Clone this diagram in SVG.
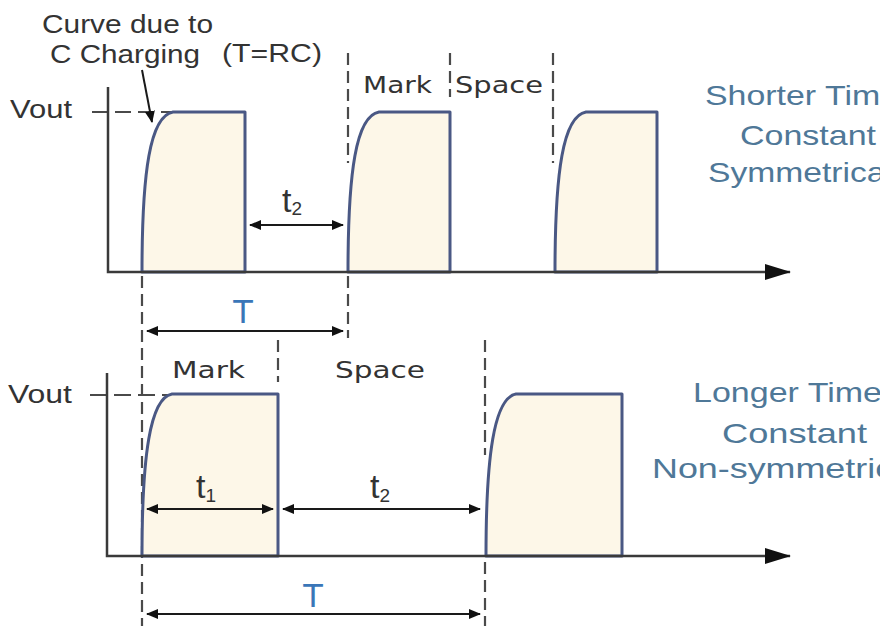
<svg xmlns="http://www.w3.org/2000/svg" width="880" height="626" viewBox="0 0 880 626">
<defs>
<style>
.wave{fill:#fdf7e8;stroke:#4a5884;stroke-width:3;stroke-linejoin:round}
.axis{fill:none;stroke:#3a3a3a;stroke-width:2.5}
.dash{fill:none;stroke:#4a4a4a;stroke-width:2.2;stroke-dasharray:12 6}
.dim{fill:none;stroke:#1a1a1a;stroke-width:2;marker-start:url(#ah);marker-end:url(#ah)}
.lbl{font-family:"Liberation Sans",Arial,sans-serif;font-size:25px;fill:#333}
.mk{font-family:"DejaVu Sans",Verdana,sans-serif;font-size:23px;fill:#333}
.bigT{font-family:"DejaVu Sans",Verdana,sans-serif;font-size:32px;fill:#3a76b8;text-anchor:middle}
.tl{font-family:"Liberation Sans",Arial,sans-serif;font-size:34px;fill:#333}
.sub{font-size:19px}
.side{font-family:"Liberation Sans",Arial,sans-serif;font-size:28px;fill:#4f7898}
</style>
<marker id="ah" viewBox="0 0 12 10" refX="11" refY="5" markerWidth="12" markerHeight="10" markerUnits="userSpaceOnUse" orient="auto-start-reverse">
<path d="M0,0 L12,5 L0,10 z" fill="#111"/>
</marker>
<marker id="ax" viewBox="0 0 26 16" refX="25" refY="8" markerWidth="26" markerHeight="16" markerUnits="userSpaceOnUse" orient="auto">
<path d="M0,0 L26,8 L0,16 z" fill="#111"/>
</marker>
</defs>
<rect width="880" height="626" fill="#ffffff"/>

<g id="top-guides">
<path class="dash" d="M348 53 V163 M450 53 V97 M553 53 V163 M348 276 V338 M142 276 V626"/>
<path class="dash" d="M92 112 H172" style="stroke-dasharray:16 7"/>
</g>

<g id="bottom-guides">
<path class="dash" d="M278 340 V382 M485 340 V455 M485 562 V626"/>
<path class="dash" d="M90 395 H168" style="stroke-dasharray:17 7"/>
</g>

<g id="top-waveform">
<path class="wave" d="M142 272 C142 172 150 116 173 112 H245 V272 Z"/>
<path class="wave" d="M348 272 C348 172 356 116 379 112 H450 V272 Z"/>
<path class="wave" d="M555 272 C555 172 563 116 586 112 H657 V272 Z"/>
</g>

<g id="bottom-waveform">
<path class="wave" d="M142 556 C142 456 150 398 172 394 H278 V556 Z"/>
<path class="wave" d="M486 556 C486 456 494 398 516 394 H622 V556 Z"/>
</g>

<g id="axes">
<path class="axis" d="M108 87 V272 H790" marker-end="url(#ax)"/>
<path class="axis" d="M107 373 V556 H790" marker-end="url(#ax)"/>
</g>

<g id="connectors">
<line class="dim" x1="250" y1="225" x2="343" y2="225"/>
<line class="dim" x1="147" y1="331" x2="343" y2="331"/>
<line class="dim" x1="147" y1="509" x2="273" y2="509"/>
<line class="dim" x1="283" y1="509" x2="480" y2="509"/>
<line class="dim" x1="147" y1="614" x2="480" y2="614"/>
<line x1="142" y1="70" x2="152" y2="122" stroke="#1a1a1a" stroke-width="2" marker-end="url(#ah)"/>
</g>

<g id="labels-top">
<text class="lbl" x="42" y="33" textLength="171" lengthAdjust="spacingAndGlyphs">Curve due to</text>
<text class="lbl" x="50" y="63" textLength="150" lengthAdjust="spacingAndGlyphs">C Charging</text>
<text class="lbl" x="222" y="62" textLength="100" lengthAdjust="spacingAndGlyphs">(T=RC)</text>
<text class="lbl" x="10" y="118" textLength="62" lengthAdjust="spacingAndGlyphs">Vout</text>
<text class="mk" x="363" y="93" textLength="69" lengthAdjust="spacingAndGlyphs">Mark</text>
<text class="mk" x="455" y="93" textLength="88" lengthAdjust="spacingAndGlyphs">Space</text>
<text class="tl" x="282" y="212">t<tspan class="sub" dy="3">2</tspan></text>
<text class="bigT" x="243" y="323">T</text>
</g>

<g id="labels-bottom">
<text class="lbl" x="8" y="403" textLength="64" lengthAdjust="spacingAndGlyphs">Vout</text>
<text class="mk" x="172" y="378" textLength="73" lengthAdjust="spacingAndGlyphs">Mark</text>
<text class="mk" x="335" y="378" textLength="90" lengthAdjust="spacingAndGlyphs">Space</text>
<text class="tl" x="196" y="498">t<tspan class="sub" dy="4">1</tspan></text>
<text class="tl" x="370" y="498">t<tspan class="sub" dy="4">2</tspan></text>
<text class="bigT" x="313" y="607">T</text>
</g>

<g id="side-top">
<text class="side" x="705" y="105" textLength="194" lengthAdjust="spacingAndGlyphs">Shorter Time</text>
<text class="side" x="740" y="145" textLength="136" lengthAdjust="spacingAndGlyphs">Constant</text>
<text class="side" x="708" y="182" textLength="185" lengthAdjust="spacingAndGlyphs">Symmetrical</text>
</g>

<g id="side-bottom">
<text class="side" x="693" y="402" textLength="189" lengthAdjust="spacingAndGlyphs">Longer Time</text>
<text class="side" x="722" y="443" textLength="145" lengthAdjust="spacingAndGlyphs">Constant</text>
<text class="side" x="652" y="478" textLength="269" lengthAdjust="spacingAndGlyphs">Non-symmetrical</text>
</g>
</svg>
